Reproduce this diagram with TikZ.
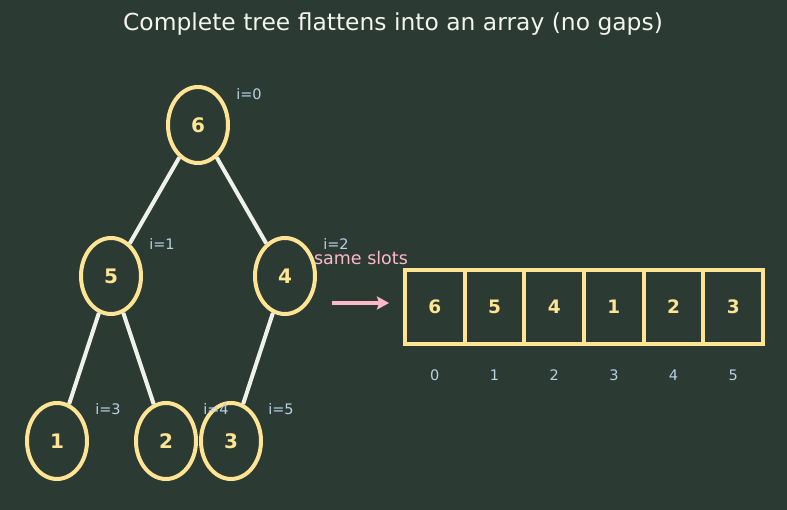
\documentclass[tikz,border=0pt]{standalone}
\usepackage{fontspec}
\setmainfont{DejaVu Sans}
\usetikzlibrary{shapes.geometric,arrows.meta}
\definecolor{bg}{HTML}{2B3A33}
\definecolor{gold}{HTML}{FFE494}
\definecolor{edgec}{HTML}{EEF2E8}
\definecolor{idx}{HTML}{B8D2E4}
\definecolor{pinkc}{HTML}{FFB8CC}
\definecolor{titlec}{HTML}{F2F4EE}
\tikzset{
  treenode/.style={ellipse,draw=gold,line width=4pt,fill=bg,minimum width=60pt,minimum height=76pt,inner sep=0pt,text=gold,font=\fontsize{20}{24}\selectfont\bfseries},
  treeedge/.style={draw=edgec,line width=4pt},
  idxlabel/.style={text=idx,font=\fontsize{14.5}{17}\selectfont,inner sep=0pt},
  cell/.style={rectangle,draw=gold,line width=4pt,minimum width=59.7pt,minimum height=74pt,inner sep=0pt,text=gold,font=\fontsize{18.5}{22}\selectfont\bfseries},
}
\begin{document}
\begin{tikzpicture}[x=1pt,y=-1pt]
\fill[bg] (0,0) rectangle (787,510);
\useasboundingbox (0,0) rectangle (787,510);
\node[text=titlec,font=\fontsize{23.4}{26}\selectfont] (title) at (393,24) {Complete tree flattens into an array (no gaps)};
% tree nodes
\node[treenode] (n6) at (198,125) {6};
\node[treenode] (n5) at (111,276) {5};
\node[treenode] (n4) at (285,276) {4};
\node[treenode] (n1) at (57,441) {1};
\node[treenode] (n2) at (166,441) {2};
\node[treenode] (n3) at (231,441) {3};
% edges
\draw[treeedge] (n6) -- (n5);
\draw[treeedge] (n6) -- (n4);
\draw[treeedge] (n5) -- (n1);
\draw[treeedge] (n5) -- (n2);
\draw[treeedge] (n4) -- (n3);
% index labels
\node[idxlabel] (l0) at (249,94) {i=0};
\node[idxlabel] (l1) at (162,244) {i=1};
\node[idxlabel] (l2) at (336,244) {i=2};
\node[idxlabel] (l3) at (108,409) {i=3};
\node[idxlabel] (l4) at (216,409) {i=4};
\node[idxlabel] (l5) at (281,409) {i=5};
% arrow
\coordinate (as) at (332,303);
\coordinate (ae) at (389,303);
\draw[pinkc,line width=4pt,-{Stealth[length=12pt,width=13pt,inset=2pt]}] (as) -- (ae);
\node[text=pinkc,font=\fontsize{17.5}{20}\selectfont,inner sep=0pt] (same) at (361,258) {same slots};
% array
\foreach \v/\i in {6/0,5/1,4/2,1/3,2/4,3/5}{
  \node[cell] (c\i) at ({434.8+59.7*\i},307) {\v};
  \node[idxlabel] (k\i) at ({434.8+59.7*\i},375) {\i};
}
\end{tikzpicture}
\end{document}
